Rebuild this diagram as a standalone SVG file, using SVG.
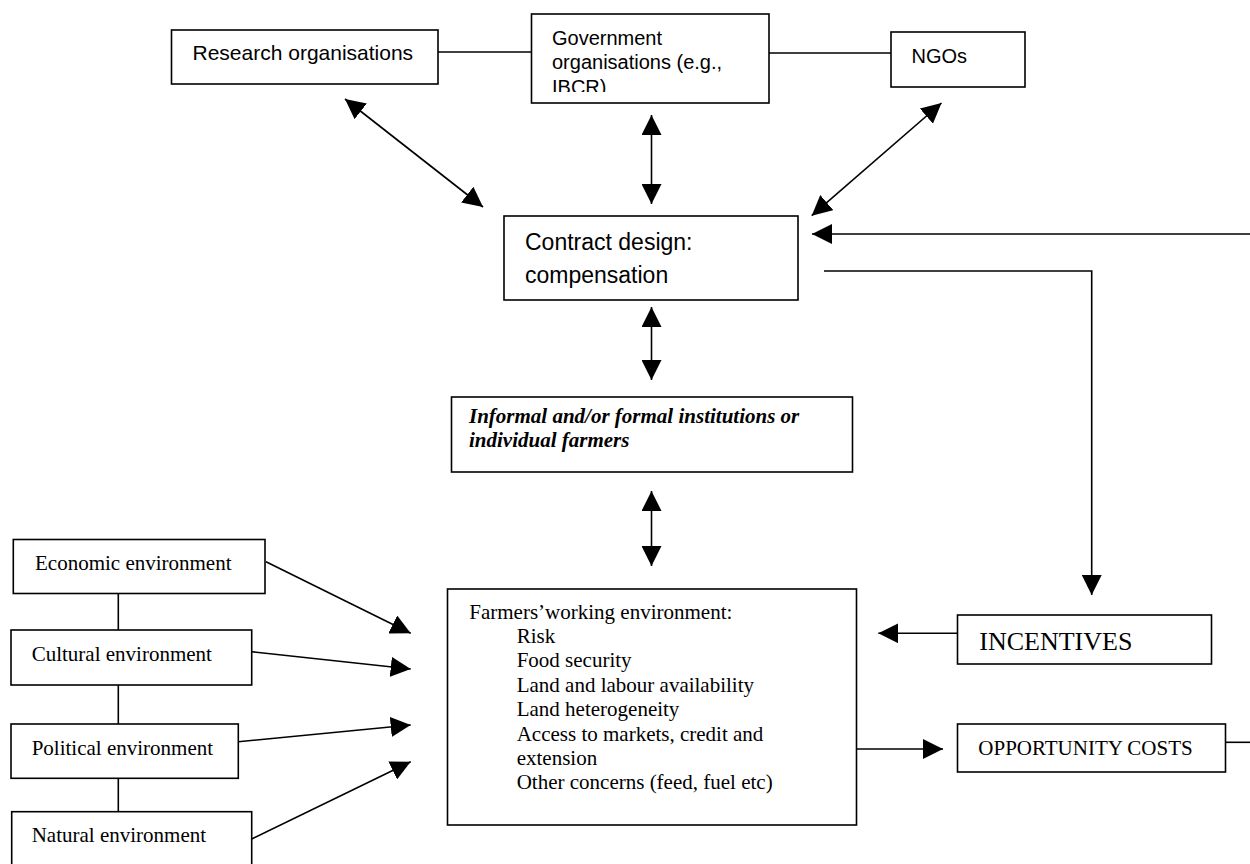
<svg xmlns="http://www.w3.org/2000/svg" width="1250" height="864" viewBox="0 0 1250 864">
<style>
.box{fill:#fff;stroke:#000;stroke-width:1.6}
.ln{fill:none;stroke:#000;stroke-width:1.6}
.sans{font-family:"Liberation Sans",Arial,sans-serif;fill:#000}
.serif{font-family:"Liberation Serif","Times New Roman",serif;fill:#000}
</style>
<defs>
<marker id="ah" viewBox="0 0 20 20" refX="20" refY="10" markerWidth="20" markerHeight="20" markerUnits="userSpaceOnUse" orient="auto-start-reverse">
<path d="M0,0 L20,10 L0,20 z" fill="#000"/>
</marker>
<clipPath id="govclip"><rect x="531" y="14" width="238" height="78"/></clipPath>
</defs>

<g id="connectors">
<line class="ln" x1="438" y1="52" x2="531.5" y2="52"/>
<line class="ln" x1="769" y1="53" x2="891" y2="53"/>
<line class="ln" x1="345" y1="99" x2="483" y2="207" marker-start="url(#ah)" marker-end="url(#ah)"/>
<line class="ln" x1="651.5" y1="115" x2="651.5" y2="204" marker-start="url(#ah)" marker-end="url(#ah)"/>
<line class="ln" x1="941.5" y1="103" x2="811.7" y2="215.7" marker-start="url(#ah)" marker-end="url(#ah)"/>
<line class="ln" x1="1250" y1="234" x2="812" y2="234" marker-end="url(#ah)"/>
<polyline class="ln" points="824,271 1091.7,271 1091.7,595" marker-end="url(#ah)"/>
<line class="ln" x1="651.5" y1="307" x2="651.5" y2="380" marker-start="url(#ah)" marker-end="url(#ah)"/>
<line class="ln" x1="651.5" y1="491" x2="651.5" y2="566" marker-start="url(#ah)" marker-end="url(#ah)"/>
<line class="ln" x1="118.3" y1="593" x2="118.3" y2="812"/>
<line class="ln" x1="266" y1="561.7" x2="410.7" y2="633.3" marker-end="url(#ah)"/>
<line class="ln" x1="251.7" y1="651.7" x2="410.7" y2="669" marker-end="url(#ah)"/>
<line class="ln" x1="238.3" y1="741.7" x2="410.7" y2="725" marker-end="url(#ah)"/>
<line class="ln" x1="251.7" y1="839" x2="410.7" y2="761.7" marker-end="url(#ah)"/>
<line class="ln" x1="957.5" y1="633.3" x2="878.3" y2="633.3" marker-end="url(#ah)"/>
<line class="ln" x1="856.7" y1="749" x2="943" y2="749" marker-end="url(#ah)"/>
<line class="ln" x1="1225.7" y1="742.3" x2="1250" y2="742.3"/>
</g>

<g id="research">
<rect class="box" x="171.5" y="30" width="266.5" height="54"/>
<text class="sans" x="192.5" y="60" font-size="21">Research organisations</text>
</g>

<g id="government">
<rect class="box" x="531.5" y="14" width="237.5" height="89"/>
<g clip-path="url(#govclip)">
<text class="sans" font-size="20"><tspan x="552" y="45">Government</tspan><tspan x="552" y="69">organisations (e.g.,</tspan><tspan x="552" y="94">IBCR)</tspan></text>
</g>
</g>

<g id="ngos">
<rect class="box" x="891" y="32" width="134" height="55"/>
<text class="sans" x="911.5" y="63" font-size="20">NGOs</text>
</g>

<g id="contract">
<rect class="box" x="504" y="216" width="294" height="84"/>
<text class="sans" font-size="23"><tspan x="525" y="250">Contract design:</tspan><tspan x="525" y="283">compensation</tspan></text>
</g>

<g id="institutions">
<rect class="box" x="451.5" y="397" width="401" height="75"/>
<text class="serif" font-size="21" font-weight="bold" font-style="italic"><tspan x="469" y="423">Informal and/or formal institutions or</tspan><tspan x="469" y="447">individual farmers</tspan></text>
</g>

<g id="farmers">
<rect class="box" x="447.5" y="589" width="409" height="236"/>
<text class="serif" font-size="21">
<tspan x="469.3" y="619">Farmers’working environment:</tspan>
<tspan x="516.7" y="643.3">Risk</tspan>
<tspan x="516.7" y="667.3">Food security</tspan>
<tspan x="516.7" y="691.7">Land and labour availability</tspan>
<tspan x="516.7" y="716">Land heterogeneity</tspan>
<tspan x="516.7" y="741">Access to markets, credit and</tspan>
<tspan x="516.7" y="764.5">extension</tspan>
<tspan x="516.7" y="789.3">Other concerns (feed, fuel etc)</tspan>
</text>
</g>

<g id="incentives">
<rect class="box" x="957.5" y="615" width="254" height="49"/>
<text class="serif" x="979.3" y="650" font-size="26">INCENTIVES</text>
</g>

<g id="opportunity">
<rect class="box" x="957.5" y="724" width="268" height="48"/>
<text class="serif" x="978.3" y="755" font-size="21">OPPORTUNITY COSTS</text>
</g>

<g id="economic">
<rect class="box" x="13.3" y="539.5" width="251.7" height="54"/>
<text class="serif" x="35" y="570" font-size="21">Economic environment</text>
</g>

<g id="cultural">
<rect class="box" x="11" y="630" width="240.7" height="55"/>
<text class="serif" x="31.7" y="660.7" font-size="21">Cultural environment</text>
</g>

<g id="political">
<rect class="box" x="11" y="724" width="227.3" height="54.3"/>
<text class="serif" x="31.7" y="755" font-size="21">Political environment</text>
</g>

<g id="natural">
<rect class="box" x="11.7" y="811.7" width="240" height="62"/>
<text class="serif" x="31.7" y="841.7" font-size="21">Natural environment</text>
</g>
</svg>
